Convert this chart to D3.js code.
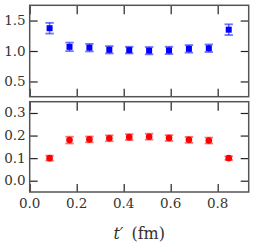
<!DOCTYPE html>
<html>
<head>
<meta charset="utf-8">
<script src="https://cdn.jsdelivr.net/npm/d3@7"></script>
<style>
  body { margin: 0; background: #fff; }
</style>
</head>
<body>
<div id="chart"></div>
<script>
// t' in fm (lattice spacing ~0.0847 fm)
const tPrime = [0.0847, 0.1694, 0.2541, 0.3388, 0.4235, 0.5082, 0.5929, 0.6776, 0.7623, 0.847];
const topVals = [1.374, 1.068, 1.055, 1.02, 1.015, 1.005, 1.01, 1.035, 1.045, 1.35];
const topErrs = [0.088, 0.07, 0.062, 0.06, 0.055, 0.06, 0.06, 0.062, 0.062, 0.088];
const botVals = [0.100, 0.180, 0.183, 0.188, 0.193, 0.195, 0.189, 0.181, 0.178, 0.100];
const botErrs = [0.011, 0.015, 0.013, 0.013, 0.013, 0.013, 0.013, 0.013, 0.013, 0.008];
const xTicks = [0.0, 0.2, 0.4, 0.6, 0.8];
const topTicks = [0.5, 1.0, 1.5];
const botTicks = [0.0, 0.1, 0.2, 0.3];

let width = 255, height = 245;
let left = 29.7, right = 248.7;
let serif = "'DejaVu Serif', 'Times New Roman', 'Liberation Serif', serif";

let svg = d3.select('#chart').append('svg')
    .attr('width', width).attr('height', height)
    .style('font-family', serif);

let x = d3.scaleLinear().domain([0, 0.932]).range([left, right]);

let drawPanel = function(top, bottom, domain, ticks, vals, errs, color, light, shape, showX) {
    let y = d3.scaleLinear().domain(domain).range([bottom, top]);
    let g = svg.append('g');

    // inward ticks on all four sides
    g.append('g').attr('transform', 'translate(' + left + ',0)')
        .call(d3.axisRight(y).tickValues(ticks).tickSize(8).tickFormat(''));
    g.append('g').attr('transform', 'translate(' + right + ',0)')
        .call(d3.axisLeft(y).tickValues(ticks).tickSize(8).tickFormat(''));
    g.append('g').attr('transform', 'translate(0,' + top + ')')
        .call(d3.axisBottom(x).tickValues(xTicks).tickSize(9).tickFormat(''));
    g.append('g').attr('transform', 'translate(0,' + bottom + ')')
        .call(d3.axisTop(x).tickValues(xTicks).tickSize(8).tickFormat(''));
    g.selectAll('.domain').remove();
    g.selectAll('.tick line').attr('stroke', '#222').attr('stroke-width', 1.2);

    // y labels
    g.selectAll('.ylab').data(ticks).enter().append('text')
        .attr('x', left - 4).attr('y', d => y(d) + 4.5)
        .attr('text-anchor', 'end').attr('font-size', 13.5)
        .style('font-family', serif).attr('fill', '#333')
        .text(d => d.toFixed(1));

    if (showX) {
        g.selectAll('.xlab').data(xTicks).enter().append('text')
            .attr('x', d => x(d)).attr('y', bottom + 16)
            .attr('text-anchor', 'middle').attr('font-size', 13.5)
            .style('font-family', serif).attr('fill', '#333')
            .text(d => d.toFixed(1));
    }

    // frame
    g.append('rect').attr('x', left).attr('y', top)
        .attr('width', right - left).attr('height', bottom - top)
        .attr('fill', 'none').attr('stroke', '#555').attr('stroke-width', 1.5);

    // error bars
    let pts = g.selectAll('.pt').data(vals.map((v, i) => ({t: tPrime[i], v: v, e: errs[i]})))
        .enter().append('g');
    pts.append('line')
        .attr('x1', d => x(d.t)).attr('x2', d => x(d.t))
        .attr('y1', d => y(d.v - d.e)).attr('y2', d => y(d.v + d.e))
        .attr('stroke', light).attr('stroke-width', 1.5);
    [-1, 1].forEach(s => {
        pts.append('line')
            .attr('x1', d => x(d.t) - 4.2).attr('x2', d => x(d.t) + 4.2)
            .attr('y1', d => y(d.v + s * d.e)).attr('y2', d => y(d.v + s * d.e))
            .attr('stroke', light).attr('stroke-width', 1.8);
    });
    if (shape === 'square') {
        pts.append('rect')
            .attr('x', d => x(d.t) - 3).attr('y', d => y(d.v) - 3)
            .attr('width', 6).attr('height', 6).attr('fill', color);
    } else {
        pts.append('circle')
            .attr('cx', d => x(d.t)).attr('cy', d => y(d.v))
            .attr('r', 3.3).attr('fill', color);
    }
}

drawPanel(5.3, 96.7, [0.25, 1.75], topTicks, topVals, topErrs, '#0000ff', 'rgba(0,0,255,0.55)', 'square', false);
drawPanel(101.7, 192, [-0.05, 0.35], botTicks, botVals, botErrs, '#ff0000', 'rgba(255,0,0,0.55)', 'circle', true);

// x axis title
let xt = svg.append('text')
    .attr('x', (left + right) / 2).attr('y', 239)
    .attr('text-anchor', 'middle').attr('font-size', 16)
    .style('font-family', serif).attr('fill', '#333');
xt.append('tspan').attr('font-style', 'italic').text('t′');
xt.append('tspan').text('\u2002(fm)');
</script>
</body>
</html>
